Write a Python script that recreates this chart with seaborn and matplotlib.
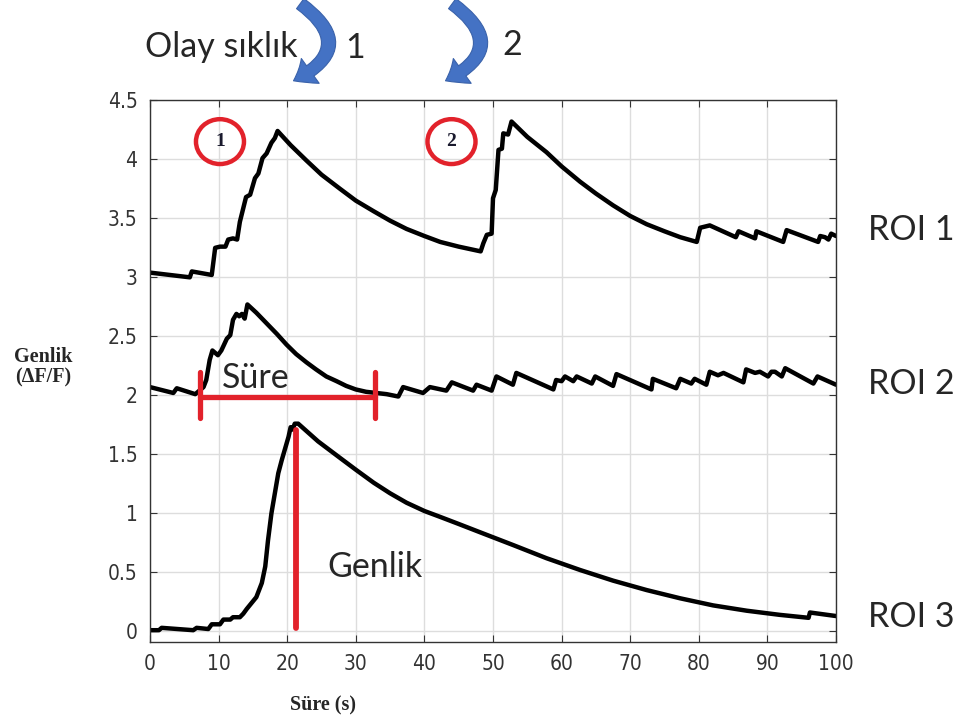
import matplotlib
matplotlib.use("Agg")
import numpy as np
import pandas as pd
import seaborn as sns
import matplotlib.pyplot as plt
from matplotlib.patches import Ellipse, FancyArrowPatch
from matplotlib.transforms import IdentityTransform

# ---- traces (time in s, amplitude in dF/F) ----
roi1_t = [0, 5.8, 6.1, 9.0, 9.5, 10.2, 11.0, 11.4, 12.1, 12.7, 13.1, 14.0, 14.6, 15.3,
          15.8, 16.4, 17.0, 17.7, 18.2, 18.6, 20.5, 22.8, 25.0, 27.7, 30.0, 32.6, 35.0,
          37.4, 40.0, 42.3, 45.0, 48.2, 48.6, 49.1, 49.8, 50.0, 50.4, 50.8, 51.3, 51.5,
          52.2, 52.7, 55.0, 57.8, 60.0, 62.7, 65.0, 67.5, 70.0, 72.4, 75.0, 77.3, 79.7,
          80.2, 80.9, 81.6, 85.4, 85.8, 88.2, 88.4, 92.3, 92.8, 97.4, 97.7, 98.4, 98.9,
          99.3, 100]
roi1_v = [3.04, 3.00, 3.05, 3.02, 3.25, 3.26, 3.26, 3.32, 3.33, 3.32, 3.47, 3.68, 3.70,
          3.84, 3.88, 4.01, 4.05, 4.14, 4.18, 4.24, 4.12, 3.99, 3.87, 3.75, 3.65, 3.56,
          3.48, 3.41, 3.35, 3.30, 3.26, 3.22, 3.29, 3.36, 3.37, 3.67, 3.74, 4.08, 4.09,
          4.22, 4.21, 4.32, 4.19, 4.06, 3.94, 3.81, 3.71, 3.61, 3.52, 3.45, 3.39, 3.34,
          3.30, 3.42, 3.43, 3.44, 3.34, 3.39, 3.33, 3.39, 3.30, 3.40, 3.30, 3.35, 3.34,
          3.32, 3.37, 3.35]

roi2_t = [0, 3.4, 3.9, 6.6, 7.8, 8.2, 8.7, 9.1, 9.9, 10.4, 11.2, 11.7, 12.1, 12.6, 13.0,
          13.4, 13.8, 14.2, 15.5, 17.0, 18.5, 19.9, 21.3, 22.8, 24.2, 25.7, 27.2, 28.6,
          30.0, 31.5, 34.5, 36.2, 36.9, 39.8, 40.8, 43.2, 44.0, 47.1, 47.6, 49.8, 50.5,
          52.9, 53.4, 58.8, 59.2, 60.0, 60.5, 61.7, 62.2, 64.4, 64.9, 67.5, 68.0, 73.1,
          73.3, 76.7, 77.3, 78.9, 79.4, 81.1, 81.6, 82.8, 83.6, 86.5, 86.9, 88.2, 88.9,
          90.1, 90.6, 91.1, 92.1, 92.6, 96.7, 97.3, 100]
roi2_v = [2.07, 2.02, 2.06, 2.01, 2.07, 2.13, 2.30, 2.38, 2.34, 2.38, 2.48, 2.51, 2.64,
          2.69, 2.67, 2.69, 2.65, 2.77, 2.70, 2.61, 2.52, 2.43, 2.35, 2.28, 2.22, 2.16,
          2.12, 2.08, 2.05, 2.03, 2.01, 1.99, 2.07, 2.02, 2.07, 2.04, 2.11, 2.04, 2.09,
          2.04, 2.16, 2.09, 2.19, 2.05, 2.13, 2.12, 2.16, 2.12, 2.16, 2.10, 2.16, 2.08,
          2.18, 2.05, 2.14, 2.06, 2.14, 2.10, 2.14, 2.09, 2.20, 2.17, 2.19, 2.11, 2.22,
          2.19, 2.20, 2.16, 2.20, 2.20, 2.16, 2.23, 2.10, 2.16, 2.09]

roi3_t = [0, 1.3, 1.7, 6.3, 6.8, 8.5, 9.0, 10.2, 10.7, 11.7, 12.1, 13.1, 13.6, 14.1,
          14.8, 15.5, 16.3, 16.8, 17.2, 17.7, 18.2, 18.7, 19.2, 19.7, 20.2, 20.5, 20.8,
          21.1, 21.6, 24.5, 27.7, 30.0, 32.6, 35.0, 37.4, 40.0, 42.3, 45.0, 48.1, 53.0,
          57.8, 62.7, 67.5, 72.4, 77.3, 82.1, 87.0, 91.8, 96.0, 96.2, 100]
roi3_v = [0.01, 0.01, 0.03, 0.01, 0.03, 0.02, 0.06, 0.06, 0.10, 0.10, 0.12, 0.12, 0.15,
          0.19, 0.24, 0.29, 0.41, 0.55, 0.77, 1.00, 1.17, 1.34, 1.45, 1.55, 1.65, 1.73,
          1.71, 1.76, 1.76, 1.61, 1.47, 1.37, 1.26, 1.17, 1.09, 1.02, 0.97, 0.91, 0.84,
          0.73, 0.62, 0.52, 0.43, 0.35, 0.28, 0.22, 0.175, 0.14, 0.115, 0.16, 0.13]

roi_names = ["ROI 1", "ROI 2", "ROI 3"]
x_ticks = list(range(0, 101, 10))
y_ticks = [0, 0.5, 1, 1.5, 2, 2.5, 3, 3.5, 4, 4.5]

# event-duration and amplitude markers (data units)
dur_start, dur_end, dur_level = 7.3, 32.8, 1.985
amp_time, amp_low, amp_high = 21.3, 0.03, 1.71

frames = []
for name, t, v in zip(roi_names, [roi1_t, roi2_t, roi3_t], [roi1_v, roi2_v, roi3_v]):
    frames.append(pd.DataFrame({"t": t, "v": v, "roi": name}))
df = pd.concat(frames, ignore_index=True)

sns.set_style("ticks")
plt.rcParams["font.family"] = ["DejaVu Sans"]

W, H = 957, 724
fig = plt.figure(figsize=(W / 100, H / 100), dpi=100)
ax = fig.add_axes([150 / W, 1 - 642 / H, (836 - 150) / W, (642 - 100.3) / H])

sns.lineplot(data=df, x="t", y="v", hue="roi", units="roi", estimator=None, sort=False,
             palette=["black"] * 3, linewidth=3.2, legend=False, ax=ax)

ax.set_xlim(0, 100)
ax.set_ylim(-0.09, 4.5)
ax.set_xticks(x_ticks)
ax.set_yticks(y_ticks)
ax.set_xticklabels([f"{v:g}" for v in x_ticks])
ax.set_yticklabels([f"{v:g}" for v in y_ticks])
ax.grid(True, color="#dddddd", linewidth=1.0)
ax.set_axisbelow(True)
ax.set_xlabel("")
ax.set_ylabel("")
for s in ax.spines.values():
    s.set_visible(True)
    s.set_color("#333333")
    s.set_linewidth(1.0)
ax.tick_params(direction="in", top=True, right=True, length=5, width=0.8,
               colors="#333333", labelsize=15, pad=9)
for lab in ax.get_xticklabels() + ax.get_yticklabels():
    lab.set_family(["DejaVu Sans"])
    lab.set_stretch("condensed")
    lab.set_color("#333333")

red = "#e2222b"
ax.plot([dur_start, dur_end], [dur_level, dur_level], color=red, lw=3.8,
        solid_capstyle="round", zorder=5)
for xe in (dur_start, dur_end):
    ax.plot([xe, xe], [1.81, 2.20], color=red, lw=3.8, solid_capstyle="round", zorder=5)
ax.plot([amp_time, amp_time], [amp_low, amp_high], color=red, lw=4.2,
        solid_capstyle="round", zorder=5)

# numbered event circles
for cx, label in ((10.2, "1"), (43.95, "2")):
    ax.add_patch(Ellipse((cx, 4.15), 7.0, 0.38, fill=False, edgecolor=red, lw=3.2,
                         zorder=6))
    ax.text(cx, 4.15, label, ha="center", va="center", fontsize=14, fontweight="bold",
            family=["Liberation Serif", "DejaVu Serif"], color="#1a1a2e", zorder=7)

ann_font = ["Lato", "DejaVu Sans"]

def ftext(px, py, s, **kw):
    fig.text(px / W, 1 - py / H, s, **kw)

ftext(222, 378, "Süre", fontsize=24.5, family=ann_font, ha="left", va="center")
ftext(327, 567, "Genlik", fontsize=24.5, family=ann_font, ha="left", va="center")
ftext(145, 47, "Olay sıklık", fontsize=24.5, family=ann_font, ha="left", va="center")
ftext(355, 48, "1", fontsize=24.5, family=ann_font, ha="center", va="center")
ftext(512, 45, "2", fontsize=24.5, family=ann_font, ha="center", va="center")
for name, py in zip(roi_names, (230, 384, 617)):
    ftext(868, py, name, fontsize=24.5, family=ann_font, ha="left", va="center")

serif_bold = dict(family=["Liberation Serif", "DejaVu Serif"], fontweight="bold",
                  fontsize=14.5)
ftext(323, 705, "Süre (s)", ha="center", va="center", **serif_bold)
ftext(43, 367, "Genlik\n(ΔF/F)", ha="center", va="center", linespacing=1.05,
      **serif_bold)

# curved blue arrows above the plot
for x0 in (298, 450):
    arr = FancyArrowPatch((x0, H - 2), (x0 - 7, H - 82),
                          connectionstyle="arc3,rad=-0.85",
                          arrowstyle="simple,head_length=14,head_width=22,tail_width=9",
                          mutation_scale=1, transform=IdentityTransform(),
                          facecolor="#4472c4", edgecolor="#3a62aa", lw=0.8)
    fig.add_artist(arr)

fig.savefig("out.png", dpi=100)
